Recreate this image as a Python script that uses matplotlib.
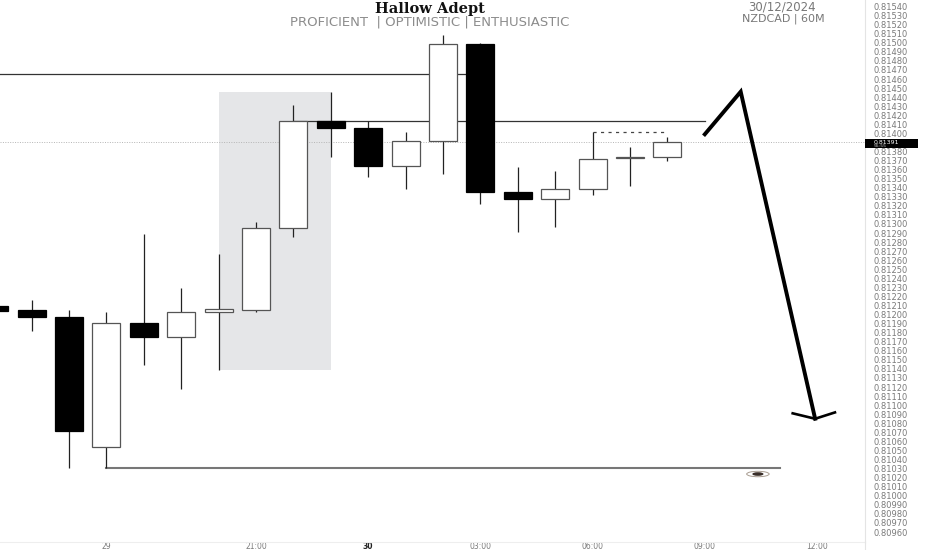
import matplotlib
matplotlib.use('Agg')
import matplotlib.pyplot as plt
from matplotlib.lines import Line2D
from matplotlib.patches import Ellipse, Rectangle

W, H = 932, 550

# candles, one per hour, hour 0 is the "29" tick
hours = list(range(-3, 16))
opens = [0.81209, 0.81205, 0.81197, 0.81054, 0.81191, 0.81175, 0.81203, 0.81205, 0.81296, 0.81414,
         0.81406, 0.81364, 0.81392, 0.81499, 0.81335, 0.81328, 0.81339, 0.81373, 0.81374]
closes = [0.81204, 0.81197, 0.81071, 0.81191, 0.81175, 0.81203, 0.81206, 0.81296, 0.81414, 0.81406,
          0.81364, 0.81392, 0.81499, 0.81335, 0.81328, 0.81339, 0.81372, 0.81374, 0.81391]
highs = [0.81209, 0.81216, 0.81205, 0.81203, 0.81289, 0.81229, 0.81267, 0.81302, 0.81431, 0.81446,
         0.81414, 0.81402, 0.81509, 0.81500, 0.81363, 0.81358, 0.81402, 0.81385, 0.81396]
lows = [0.81204, 0.81182, 0.81031, 0.81031, 0.81144, 0.81118, 0.81139, 0.81203, 0.81286, 0.81374,
        0.81352, 0.81339, 0.81355, 0.81322, 0.81291, 0.81297, 0.81332, 0.81342, 0.81369]

# levels and drawings
box_hours = [3, 6]
box_prices = [0.81139, 0.81446]
level_top = 0.81466
level_mid = 0.81414
level_low = 0.81031
level_dotted = 0.81402
last_price = 0.81391
arrow_x = [16, 16.96, 18.95]
arrow_y = [0.81399, 0.81446, 0.81085]
head_x = [18.35, 18.95, 19.48]
head_y = [0.81091, 0.81085, 0.81092]

xtick_pos = [0, 4, 7, 10, 13, 16, 19]
xtick_labels = ['29', '21:00', '30', '03:00', '06:00', '09:00', '12:00']
ytick_vals = [v / 100000 for v in range(81540, 80950, -10) if v != 81390]

fig = plt.figure(figsize=(W / 100, H / 100), dpi=100, facecolor='white')
ax = fig.add_axes([0, 1 - 541.7 / H, 864.5 / W, 541.7 / H])
ax.set_xlim(-2.845, 20.27)
ax.set_ylim(0.809493, 0.815472)

for s in ['top', 'left']:
    ax.spines[s].set_visible(False)
ax.spines['right'].set_color('#e4e4e4')
ax.spines['bottom'].set_color('#eeeeee')
ax.spines['right'].set_linewidth(0.8)
ax.spines['bottom'].set_linewidth(0.8)

ax.add_patch(Rectangle((box_hours[0], box_prices[0]), box_hours[1] - box_hours[0],
                       box_prices[1] - box_prices[0], fc='#e5e6e8', ec='none', zorder=1))

ax.axhline(last_price, color='#b5b5b5', lw=0.7, ls=(0, (1, 1.5)), zorder=1.5)
ax.plot([-3, 10], [level_top, level_top], color='#333333', lw=0.9, zorder=2)
ax.plot([5, 16], [level_mid, level_mid], color='#333333', lw=0.9, zorder=2)
ax.plot([0, 18], [level_low, level_low], color='#777777', lw=1.5, zorder=2)
ax.plot([13, 15], [level_dotted, level_dotted], color='#444444', lw=0.9, ls=(0, (2.5, 3.5)), zorder=2)

# candles
for h, o, c, hi, lo in zip(hours, opens, closes, highs, lows):
    ax.vlines(h, lo, hi, color='#222222', lw=0.9, zorder=3)
    up = c >= o
    ax.bar(h, abs(c - o), bottom=min(o, c), width=0.75,
           color='white' if up else 'black', edgecolor='#555555' if up else 'black',
           linewidth=0.9, zorder=4)

ax.plot(arrow_x, arrow_y, color='black', lw=2.8, solid_joinstyle='miter', zorder=5)
ax.plot(head_x, head_y, color='black', lw=1.9, solid_joinstyle='miter', zorder=5)

# the little eye under the low level
ax.add_patch(Ellipse((17.42, 0.81024), 0.6, 0.00006, fc='none', ec='#a89c90', lw=0.7, zorder=5))
ax.add_patch(Ellipse((17.42, 0.81024), 0.3, 0.00004, fc='#3a2e28', ec='none', zorder=6))

ax.yaxis.tick_right()
ax.set_yticks(ytick_vals)
ax.set_yticklabels([f'{v:.5f}' for v in ytick_vals], fontsize=6, color='#7a7a7a')
ax.tick_params(axis='y', length=0, pad=6.5)
ax.set_xticks(xtick_pos)
ax.set_xticklabels(xtick_labels, fontsize=5.5, color='#7a7a7a')
ax.tick_params(axis='x', length=0, pad=0.5)
ax.get_xticklabels()[2].set_fontweight('bold')
ax.get_xticklabels()[2].set_color('#222222')

# price tag on the axis
fig.add_artist(Rectangle((865 / W, 1 - 148 / H), 53 / W, 8.5 / H, transform=fig.transFigure,
                         fc='black', ec='none'))
fig.text(874 / W, 1 - 142.4 / H, f'{last_price:.5f}', color='white', fontsize=4.5, va='center')
fig.text(874 / W, 1 - 146.2 / H, '55:55', color='#cccccc', fontsize=3.2, va='center')

# right axis carries on below the plot
fig.add_artist(Line2D([864.5 / W, 864.5 / W], [0, 1 - 541.7 / H], color='#e4e4e4', lw=0.8))

# header
fig.text(430 / W, 1 - 8.5 / H, 'Hallow Adept', family='DejaVu Serif', weight='bold',
         fontsize=10.5, color='#111111', ha='center', va='center')
fig.text(430 / W, 1 - 22 / H, 'PROFICIENT  | OPTIMISTIC | ENTHUSIASTIC', fontsize=9.5,
         color='#8c8c8c', ha='center', va='center')
fig.text(782 / W, 1 - 7 / H, '30/12/2024', fontsize=8.5, color='#777777', ha='center', va='center')
fig.text(783 / W, 1 - 18.5 / H, 'NZDCAD | 60M', fontsize=8, color='#777777', ha='center', va='center')

fig.savefig('out.png', dpi=100)
